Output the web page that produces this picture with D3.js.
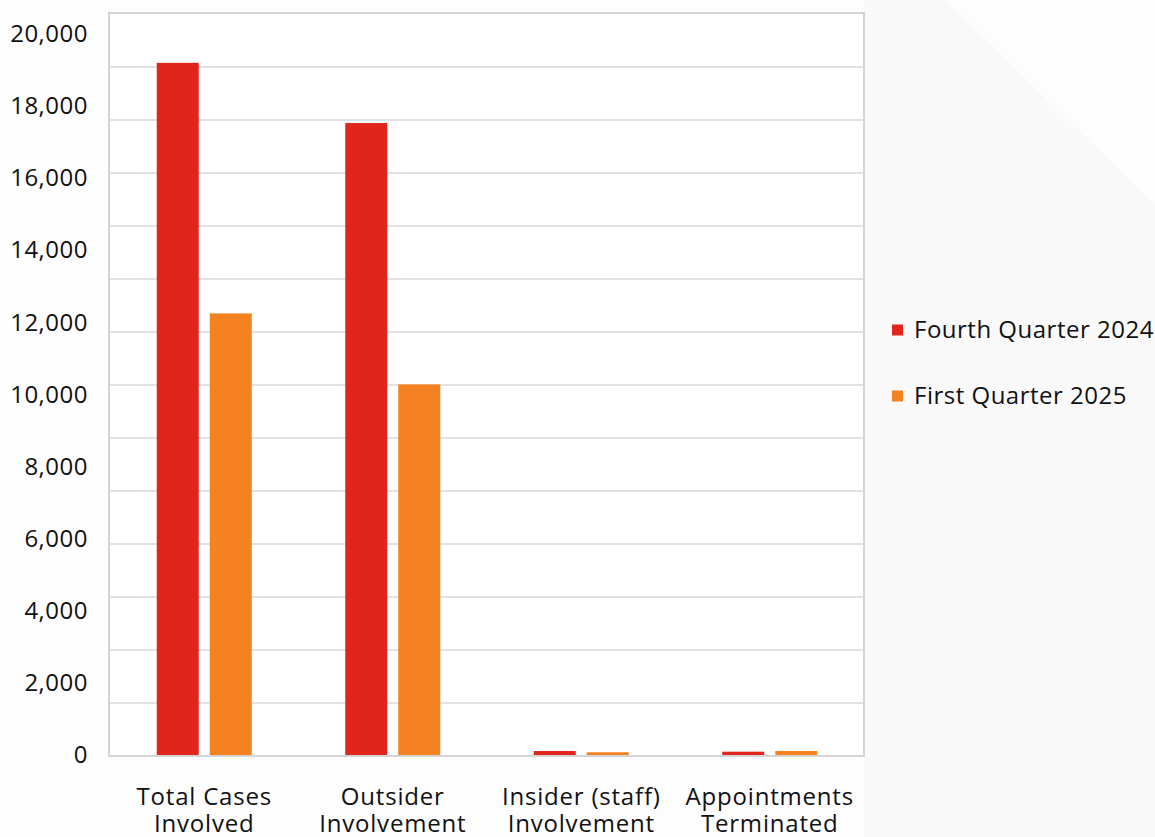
<!DOCTYPE html>
<html>
<head>
<meta charset="utf-8">
<script src="https://cdn.jsdelivr.net/npm/d3@7"></script>
<style>
  html, body { margin: 0; padding: 0; background: #fdfdfd; }
  svg { display: block; }
  text { font-family: "Open Sans", "Noto Sans", sans-serif; fill: #111; }
</style>
</head>
<body>
<svg id="chart" width="1155" height="837"></svg>
<script>
// Fraud case counts by category, two reporting quarters
const categories = [
  ["Total Cases", "Involved"],
  ["Outsider", "Involvement"],
  ["Insider (staff)", "Involvement"],
  ["Appointments", "Terminated"]
];
const seriesNames = ["Fourth Quarter 2024", "First Quarter 2025"];
const q4_2024 = [19200, 17530, 110, 92];
const q1_2025 = [12250, 10280, 75, 111];
const yTickValues = [0, 2000, 4000, 6000, 8000, 10000, 12000, 14000, 16000, 18000, 20000];
const gridDivisions = 14;

const colors = ["#e0261c", "#f58220"];

const svg = d3.select("#chart");
const W = 1155, H = 837;

// soft diagonal backdrop shape
svg.append("rect").attr("width", W).attr("height", H).attr("fill", "#fdfdfd");
svg.append("path")
  .attr("d", `M864,0 L945,0 L1155,205 L1155,837 L864,837 Z`)
  .attr("fill", "#f7f7f7").attr("opacity", 0.8);

const plot = { left: 110, right: 864, top: 14, bottom: 756 };

// plot area
svg.append("rect")
  .attr("x", plot.left).attr("y", plot.top)
  .attr("width", plot.right - plot.left).attr("height", plot.bottom - plot.top)
  .attr("fill", "#ffffff");

const y = d3.scaleLinear().domain([0, 20000]).range([755, 34]);

const x0 = d3.scaleBand()
  .domain(d3.range(categories.length))
  .range([plot.left, plot.right])
  .paddingInner(0.496)
  .paddingOuter(0.248);

const x1 = d3.scaleBand()
  .domain(d3.range(seriesNames.length))
  .range([0, x0.bandwidth()])
  .paddingInner(0.2075);

// horizontal grid lines
const grid = d3.scaleLinear().domain([0, gridDivisions]).range([plot.bottom, plot.top]);
svg.append("g")
  .selectAll("line")
  .data(d3.range(1, gridDivisions))
  .join("line")
  .attr("x1", plot.left).attr("x2", plot.right)
  .attr("y1", d => grid(d)).attr("y2", d => grid(d))
  .attr("stroke", "#e2e2e2").attr("stroke-width", 2);

// bars
const values = [q4_2024, q1_2025];
const barGroups = svg.append("g")
  .selectAll("g")
  .data(categories.map((c, i) => ({ i, vals: values.map(v => v[i]) })))
  .join("g")
  .attr("transform", d => `translate(${x0(d.i)},0)`);

barGroups.selectAll("rect")
  .data(d => d.vals.map((v, s) => ({ v, s })))
  .join("rect")
  .attr("x", d => x1(d.s))
  .attr("width", x1.bandwidth())
  .attr("y", d => y(d.v))
  .attr("height", d => y(0) - y(d.v))
  .attr("fill", d => colors[d.s]);

// plot frame
svg.append("rect")
  .attr("x", plot.left - 1).attr("y", plot.top - 1)
  .attr("width", plot.right - plot.left + 1).attr("height", plot.bottom - plot.top + 1)
  .attr("fill", "none").attr("stroke", "#d4d4d4").attr("stroke-width", 2);

// y axis labels
const yAxis = d3.axisLeft(y)
  .tickValues(yTickValues)
  .tickFormat(d3.format(","))
  .tickSize(0)
  .tickPadding(0);
const yg = svg.append("g").attr("transform", "translate(88,0)").call(yAxis);
yg.select(".domain").remove();
yg.selectAll("text")
  .attr("font-size", 24)
  .attr("fill", "#111")
  .style("letter-spacing", "0.5px")
  .style("font-family", "'Open Sans', sans-serif");

// category labels, one text per line
const xl = svg.append("g")
  .selectAll("g")
  .data(categories.map((c, i) => ({ c, i })))
  .join("g")
  .attr("transform", d => `translate(${x0(d.i) + x0.bandwidth() / 2},0)`);
xl.selectAll("text")
  .data(d => d.c)
  .join("text")
  .attr("text-anchor", "middle")
  .attr("font-size", 24)
  .style("letter-spacing", "0.8px")
  .attr("y", (d, k) => 805 + k * 27)
  .text(d => d);

// legend
const legend = svg.append("g").attr("transform", "translate(892,0)");
const lg = legend.selectAll("g")
  .data(seriesNames)
  .join("g")
  .attr("transform", (d, i) => `translate(0,${330 + i * 66})`);
lg.append("rect")
  .attr("x", 0).attr("y", -5.5)
  .attr("width", 11).attr("height", 11)
  .attr("fill", (d, i) => colors[i]);
lg.append("text")
  .attr("x", 22).attr("dy", "0.35em")
  .attr("font-size", 24)
  .style("letter-spacing", "0.5px")
  .text(d => d);
</script>
</body>
</html>
